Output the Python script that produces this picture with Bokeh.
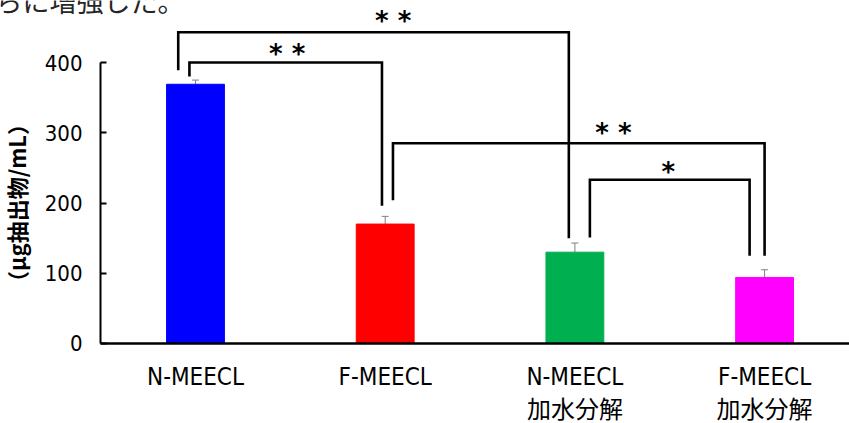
from bokeh.plotting import figure
from bokeh.models import (Range1d, FixedTicker, Whisker, ColumnDataSource, TeeHead,
                          LinearAxis)
from bokeh.embed import file_html
from bokeh.resources import INLINE
from bokeh.core.properties import value

# ---- data ----
categories = ["N-MEECL", "F-MEECL", "N-MEECL\n加水分解", "F-MEECL\n加水分解"]
values = [369, 170, 130, 94]
errors = [6, 11, 13, 11]
colors = ["#0000FF", "#FF0000", "#00B050", "#FF00FF"]
y_ticks = [0, 100, 200, 300, 400]

# significance brackets between bars
br_left = [0, 0, 1, 2]
br_right = [2, 1, 3, 3]
br_top = [443, 400, 285, 233]
br_left_end = [389, 380, 204, 151]
br_right_end = [150, 196, 125, 125]
br_left_off = [-0.091, -0.032, 0.041, 0.079]
br_right_off = [-0.032, -0.017, 0.0, -0.079]
br_marks = ["* *", "* *", "* *", "*"]
mark_x = [1.042, 0.483, 2.203, 2.493]
mark_y = [464, 417, 304, 249]

above_text = "らに増強した。"

LATIN = "'DejaVu Sans Condensed', Roboto, 'Noto Sans CJK JP', sans-serif"
CJK = "'Noto Sans CJK JP', sans-serif"

xs_idx = list(range(len(categories)))

# plot frame fills the whole canvas; axes are pinned at fixed data locations
X0, X1 = -1.0279, 3.4476
Y0, Y1 = -113.88, 488.26
AXIS_X = -0.5008

p = figure(width=849, height=423, output_backend="svg", toolbar_location=None,
           x_range=Range1d(X0, X1), y_range=Range1d(Y0, Y1),
           x_axis_location=None, y_axis_location=None,
           min_border=0, min_border_left=0, min_border_right=0,
           min_border_top=0, min_border_bottom=0)
p.outline_line_color = None
p.grid.visible = False
p.background_fill_color = "white"

p.vbar(x=xs_idx, top=values, width=0.305, color=colors, line_color=colors)

src = ColumnDataSource(dict(x=xs_idx, lower=values,
                            upper=[v + e for v, e in zip(values, errors)]))
w = Whisker(source=src, base="x", lower="lower", upper="upper",
            line_color="#808080", line_width=1,
            upper_head=TeeHead(size=7, line_color="#808080", line_width=1),
            lower_head=None)
p.add_layout(w)

bx, by = [], []
for l, r, t, le, re, lo, ro in zip(br_left, br_right, br_top, br_left_end,
                                   br_right_end, br_left_off, br_right_off):
    bx.append([l + lo, l + lo, r + ro, r + ro])
    by.append([le, t, t, re])
p.multi_line(xs=bx, ys=by, line_color="black", line_width=2.6, line_join="miter")

p.text(x=mark_x, y=mark_y, text=br_marks, text_align="center",
       text_baseline="alphabetic", y_offset=3,
       text_font=value("DejaVu Sans"), text_font_style="bold",
       text_font_size="26px", text_color="black")

p.text(x=[-1.054], y=[488.5], text=[above_text], text_font=value("Noto Sans CJK JP"),
       text_font_size="27px", text_color="#262626", text_baseline="alphabetic",
       text_align="left")

# axes
xa = LinearAxis(fixed_location=0)
xa.bounds = (AXIS_X, X1)
xa.ticker = FixedTicker(ticks=xs_idx)
xa.major_label_overrides = {i: c for i, c in zip(xs_idx, categories)}
xa.major_tick_line_color = None
xa.minor_tick_line_color = None
xa.axis_line_width = 2.5
xa.axis_line_color = "black"
xa.major_label_text_font = LATIN
xa.major_label_text_font_size = "24px"
xa.major_label_text_color = "black"
xa.major_label_standoff = 14
xa.major_label_text_line_height = 1.15
p.add_layout(xa, "below")

ya = LinearAxis(fixed_location=AXIS_X)
ya.ticker = FixedTicker(ticks=y_ticks)
ya.bounds = (0, 400)
ya.axis_line_width = 2
ya.axis_line_color = "black"
ya.major_tick_in = 6
ya.major_tick_out = 0
ya.major_tick_line_width = 2
ya.minor_tick_line_color = None
ya.major_label_text_font = LATIN
ya.major_label_text_font_size = "22px"
ya.major_label_text_color = "black"
ya.major_label_standoff = 18
ya.axis_label = "（μg抽出物/mL）"
ya.axis_label_text_font = CJK
ya.axis_label_text_font_size = "22px"
ya.axis_label_text_font_style = "bold"
ya.axis_label_text_color = "black"
ya.axis_label_standoff = 10
p.add_layout(ya, "left")

open("out.html", "w").write(file_html(p, INLINE))
